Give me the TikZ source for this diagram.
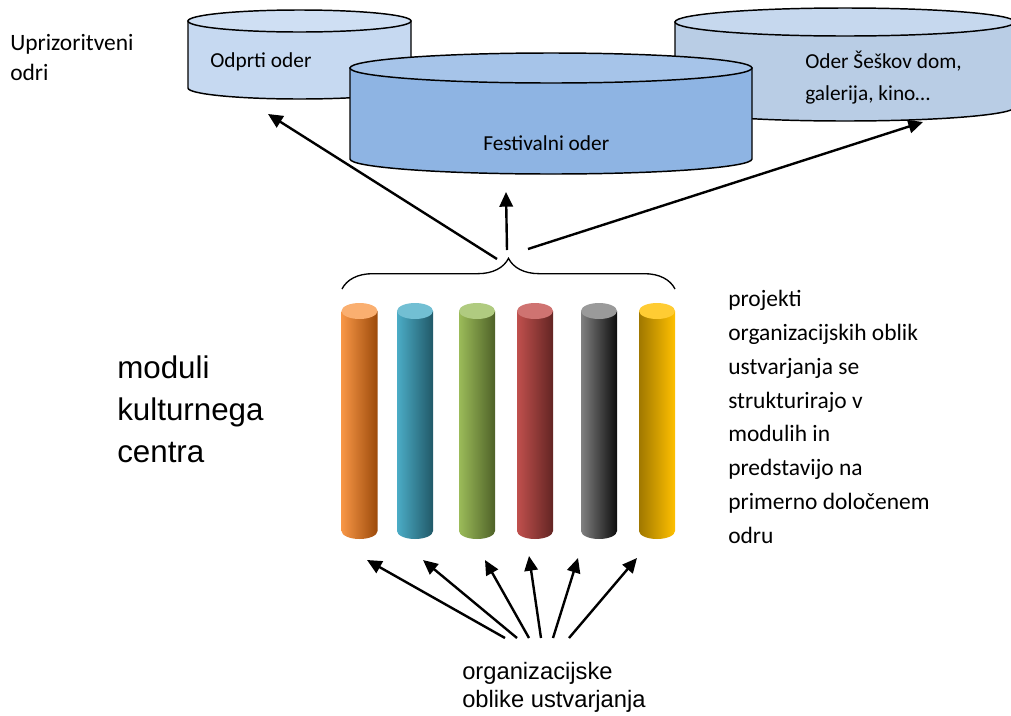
\documentclass[tikz,border=0pt]{standalone}
\usepackage{fontspec}
\setmainfont{Carlito}
\newfontfamily\arialfont{Liberation Sans}
\usetikzlibrary{arrows.meta}
\usetikzlibrary{decorations.pathreplacing}
\usetikzlibrary{calc}

\definecolor{odprtiside}{HTML}{C6D9F1}
\definecolor{odprtitop}{HTML}{CFDFF3}
\definecolor{seskovside}{HTML}{B9CDE5}
\definecolor{seskovtop}{HTML}{C6D8EE}
\definecolor{festside}{HTML}{8EB4E3}
\definecolor{festtop}{HTML}{A6C4E9}
% module colours: light side, dark side, top
\definecolor{orangeL}{HTML}{F79646}\definecolor{orangeD}{HTML}{9C4A0A}\definecolor{orangeT}{HTML}{FAAF70}
\definecolor{blueL}{HTML}{4BACC6}\definecolor{blueD}{HTML}{215968}\definecolor{blueT}{HTML}{72BFD3}
\definecolor{greenL}{HTML}{9BBB59}\definecolor{greenD}{HTML}{4F6228}\definecolor{greenT}{HTML}{B0CB80}
\definecolor{redL}{HTML}{C0504D}\definecolor{redD}{HTML}{632523}\definecolor{redT}{HTML}{CF7371}
\definecolor{grayL}{HTML}{808080}\definecolor{grayD}{HTML}{0D0D0D}\definecolor{grayT}{HTML}{9A9A9A}
\definecolor{goldL}{HTML}{A07800}\definecolor{goldD}{HTML}{FFC000}\definecolor{goldT}{HTML}{FFCC33}

% stage cylinder: centre x, top y, bottom y, x radius, y radius, side colour, top colour
\newcommand{\oder}[7]{%
	\filldraw[fill=#6, line width=1.1pt] (#1-#4,#2) -- (#1-#4,#3) arc[start angle=180, end angle=360, x radius=#4, y radius=#5] -- (#1+#4,#2) -- cycle;
	\filldraw[fill=#7, line width=1.1pt] (#1,#2) ellipse [x radius=#4, y radius=#5];
}
% module column: centre x, left colour, right colour, top colour
\newcommand{\modul}[4]{%
	\shade[left color=#2, right color=#3] (#1-18,-311) -- (#1-18,-531) arc[start angle=180, end angle=360, x radius=18, y radius=8] -- (#1+18,-311) -- cycle;
	\fill[#4] (#1,-311) ellipse [x radius=18, y radius=8];
}

\tikzset{
	arrow/.style={line width=1.8pt, -{Triangle[length=11pt, width=10pt]}},
	calibri/.style={inner sep=0, anchor=base west, align=left},
	arial/.style={inner sep=0, anchor=base west, align=left},
}

\begin{document}
\begin{tikzpicture}[x=0.75pt, y=0.75pt]
			\useasboundingbox (0,0) rectangle (1011,-715);
			% stages
			\oder{299.5}{-21}{-88}{111.5}{11}{odprtiside}{odprtitop}
			\oder{845}{-22}{-107}{170}{14}{seskovside}{seskovtop}
			\oder{551}{-68}{-159}{201}{15}{festside}{festtop}
			% (multi-line nodes sit on their last baseline)
			\node[calibri, font=\fontsize{16}{24}\selectfont] (odprti) at (210,-67) {Odprti oder};
			\node[calibri, font=\fontsize{16}{24}\selectfont] (festivalni) at (483,-150) {Festivalni oder};
			\node[calibri, font=\fontsize{16}{24}\selectfont] (seskov) at (805,-100) {Oder Šeškov dom,\\galerija, kino…};
			\node[calibri, font=\fontsize{17.6}{22.5}\selectfont] (odri) at (10,-80) {Uprizoritveni\\odri};
			
			% modules
			\modul{359.5}{orangeL}{orangeD}{orangeT}
			\modul{415}{blueL}{blueD}{blueT}
			\modul{477}{greenL}{greenD}{greenT}
			\modul{535}{redL}{redD}{redT}
			\modul{599}{grayL}{grayD}{grayT}
			\modul{657}{goldL}{goldD}{goldT}
			
			% brace over the modules
			\coordinate (brace left) at (342,-289);
			\coordinate (brace right) at (675,-289);
			\coordinate (tip) at (508,-258);
			\draw[line width=1pt, decorate, decoration={brace, amplitude=23pt}] (brace left) -- (brace right);
			
			% arrows to the stages
			\coordinate (up1) at (497,-259);
			\coordinate (up2) at (507,-250);
			\coordinate (up3) at (528,-249);
			\coordinate (to odprti) at (268,-114);
			\coordinate (to festivalni) at (506,-192);
			\coordinate (to seskov) at (923,-122);
			\draw[arrow] (up1) -- (to odprti);
			\draw[arrow] (up2) -- (to festivalni);
			\draw[arrow] (up3) -- (to seskov);
			
			% arrows to the modules
			\coordinate (from1) at (505,-638);
			\coordinate (from2) at (517,-638);
			\coordinate (from3) at (529,-638);
			\coordinate (from4) at (541,-638);
			\coordinate (from5) at (553,-638);
			\coordinate (from6) at (569,-638);
			\coordinate (col1) at (367,-560);
			\coordinate (col2) at (423,-560);
			\coordinate (col3) at (485,-560);
			\coordinate (col4) at (529,-556);
			\coordinate (col5) at (578,-558);
			\coordinate (col6) at (637,-558);
			\draw[arrow] (from1) -- (col1);
			\draw[arrow] (from2) -- (col2);
			\draw[arrow] (from3) -- (col3);
			\draw[arrow] (from4) -- (col4);
			\draw[arrow] (from5) -- (col5);
			\draw[arrow] (from6) -- (col6);
			
			% texts
			\node[arial, font=\arialfont\fontsize{23.5}{31.5}\selectfont] (moduli) at (117,-462) {moduli\\kulturnega\\centra};
			\node[calibri, font=\fontsize{17.6}{25.3}\selectfont] (projekti) at (728,-543) {projekti\\organizacijskih oblik\\ustvarjanja se\\strukturirajo v\\modulih in\\predstavijo na\\primerno določenem\\odru};
			\node[arial, font=\arialfont\fontsize{17.8}{21}\selectfont] (oblike) at (462,-707) {organizacijske\\oblike ustvarjanja};
		\end{tikzpicture}
\end{document}
